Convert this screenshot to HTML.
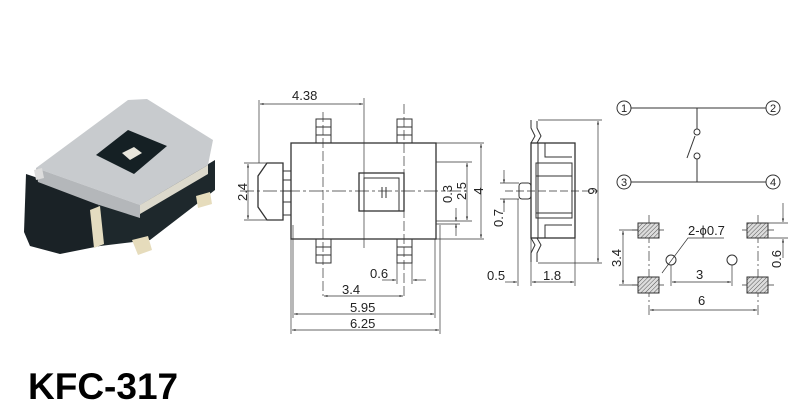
<!DOCTYPE html>
<html><head><meta charset="utf-8"><style>
body{margin:0;background:#fff;width:800px;height:415px;overflow:hidden}
svg{display:block}
text{font-family:"Liberation Sans",sans-serif;font-size:13px;fill:#222}
</style></head><body>
<svg width="800" height="415" viewBox="0 0 800 415" xmlns="http://www.w3.org/2000/svg">
<defs>
<pattern id="h" width="3" height="3" patternUnits="userSpaceOnUse" patternTransform="rotate(45)"><rect width="3" height="3" fill="#ddd"/><line x1="0" y1="0" x2="0" y2="3" stroke="#555" stroke-width="1"/></pattern>
<marker id="a" viewBox="0 0 10 10" refX="10" refY="5" markerWidth="7" markerHeight="5" orient="auto-start-reverse"><path d="M0,2 L10,5 L0,8z" fill="#333"/></marker>
</defs>
<!-- photo -->
<g>
<polygon points="26,174 98,198 100,246 60,254 30,246 24,232" fill="#1a2226"/>
<polygon points="140,205 215,160 215,190 150,240 100,246 98,200" fill="#1e282c"/>
<polygon points="128,100 147,99 213,140 208,165 140,205 36,168" fill="#c8cbce"/>
<polygon points="36,168 140,205 140,218 96,204 38,182" fill="#b4b7ba"/>
<polygon points="140,205 208,165 208,174 140,214" fill="#dcd9cc"/>
<polygon points="96,155 128,130 167,146 134,174" fill="#152024"/>
<polygon points="122,153 134,147 142,153 130,160" fill="#e8e6dc"/>
<polygon points="90,210 100,206 104,244 94,248" fill="#e4dcc0"/>
<polygon points="196,196 210,192 212,204 198,208" fill="#e6dcbc"/>
<polygon points="132,240 148,236 152,250 138,255" fill="#e6dcbc"/>
<polygon points="34,170 42,168 44,178 36,180" fill="#ddd"/>
</g>
<text x="28" y="399" style="font-size:37px;font-weight:bold;fill:#000">KFC-317</text>

<g fill="none" stroke="#333" stroke-width="1">
<!-- top view -->
<rect x="291" y="143" width="145" height="96" stroke-width="1.3"/>
<rect x="316" y="119" width="15" height="24"/><line x1="316" y1="127" x2="331" y2="127"/><line x1="316" y1="135" x2="331" y2="135"/>
<rect x="397" y="119" width="15" height="24"/><line x1="397" y1="127" x2="412" y2="127"/><line x1="397" y1="135" x2="412" y2="135"/>
<rect x="316" y="239" width="15" height="24"/><line x1="316" y1="247" x2="331" y2="247"/><line x1="316" y1="255" x2="331" y2="255"/>
<rect x="397" y="239" width="15" height="24"/><line x1="397" y1="247" x2="412" y2="247"/><line x1="397" y1="255" x2="412" y2="255"/>
<polygon points="283,163 267,163 258,176 258,207 267,220 283,220" stroke-width="1.3"/>
<rect x="283" y="171" width="8" height="44"/><line x1="283" y1="180" x2="291" y2="180"/><line x1="283" y1="191" x2="291" y2="191"/><line x1="283" y1="202" x2="291" y2="202"/>
<rect x="359" y="173" width="45" height="38" stroke-width="1.3"/>
<polyline points="364,211 364,178 399,178 399,211"/>
<line x1="382" y1="187" x2="382" y2="198"/><line x1="386" y1="187" x2="386" y2="198"/>
<line x1="240" y1="191" x2="470" y2="191" stroke-dasharray="14,3,3,3" stroke-width="0.7"/>
<line x1="364" y1="98" x2="364" y2="248" stroke-width="0.7"/>
<line x1="323" y1="112" x2="323" y2="296" stroke-dasharray="10,3" stroke-width="0.7"/>
<line x1="404" y1="104" x2="404" y2="296" stroke-dasharray="10,3" stroke-width="0.7"/>
<line x1="259" y1="100" x2="259" y2="163" stroke-width="0.7"/>
<line x1="260" y1="104" x2="363" y2="104" stroke-width="0.7" marker-start="url(#a)" marker-end="url(#a)"/>
<line x1="248" y1="164" x2="248" y2="219" stroke-width="0.7" marker-start="url(#a)" marker-end="url(#a)"/>
<line x1="244" y1="163" x2="267" y2="163" stroke-width="0.7"/><line x1="244" y1="220" x2="267" y2="220" stroke-width="0.7"/>
<line x1="436" y1="143" x2="484" y2="143" stroke-width="0.7"/><line x1="436" y1="239" x2="484" y2="239" stroke-width="0.7"/>
<line x1="436" y1="162" x2="472" y2="162" stroke-width="0.7"/><line x1="436" y1="221" x2="472" y2="221" stroke-width="0.7"/>
<line x1="436" y1="224" x2="460" y2="224" stroke-width="0.7"/>
<line x1="467" y1="163" x2="467" y2="220" stroke-width="0.7" marker-start="url(#a)" marker-end="url(#a)"/>
<line x1="481" y1="144" x2="481" y2="238" stroke-width="0.7" marker-start="url(#a)" marker-end="url(#a)"/>
<line x1="456" y1="208" x2="456" y2="221" stroke-width="0.7" marker-end="url(#a)"/><line x1="456" y1="236" x2="456" y2="224" stroke-width="0.7" marker-end="url(#a)"/>
<line x1="291" y1="239" x2="291" y2="334" stroke-width="0.7"/><line x1="293" y1="225" x2="293" y2="318" stroke-width="0.7"/>
<line x1="435" y1="239" x2="435" y2="318" stroke-width="0.7"/><line x1="440" y1="225" x2="440" y2="334" stroke-width="0.7"/>
<line x1="412" y1="263" x2="412" y2="284" stroke-width="0.7"/><line x1="397" y1="263" x2="397" y2="284" stroke-width="0.7"/>
<line x1="382" y1="280" x2="396" y2="280" stroke-width="0.7" marker-end="url(#a)"/><line x1="426" y1="280" x2="413" y2="280" stroke-width="0.7" marker-end="url(#a)"/>
<line x1="324" y1="296" x2="403" y2="296" stroke-width="0.7" marker-start="url(#a)" marker-end="url(#a)"/>
<line x1="294" y1="314" x2="434" y2="314" stroke-width="0.7" marker-start="url(#a)" marker-end="url(#a)"/>
<line x1="292" y1="330" x2="439" y2="330" stroke-width="0.7" marker-start="url(#a)" marker-end="url(#a)"/>
<!-- side view -->
<rect x="531" y="143" width="44" height="95" stroke-width="1.3"/>
<line x1="538" y1="143" x2="538" y2="238"/>
<rect x="536" y="163" width="36" height="55"/>
<line x1="536" y1="176" x2="572" y2="176"/><line x1="536" y1="213" x2="572" y2="213"/>
<polyline points="545,143 545,157 572,157"/><polyline points="545,238 545,225 572,225"/>
<path d="M531,143 L535,136 L531,128 L531,120 M537,143 L541,136 L537,128 L537,121" />
<path d="M531,238 L535,245 L531,253 L531,262 M537,238 L541,245 L537,253 L537,262"/>
<rect x="519" y="183" width="12" height="16" rx="3"/>
<line x1="505" y1="191" x2="598" y2="191" stroke-dasharray="8,3" stroke-width="0.7"/>
<line x1="538" y1="120" x2="602" y2="120" stroke-width="0.7"/><line x1="538" y1="263" x2="602" y2="263" stroke-width="0.7"/>
<line x1="598" y1="121" x2="598" y2="262" stroke-width="0.7" marker-start="url(#a)" marker-end="url(#a)"/>
<line x1="500" y1="183" x2="519" y2="183" stroke-width="0.7"/><line x1="500" y1="199" x2="519" y2="199" stroke-width="0.7"/>
<line x1="504" y1="170" x2="504" y2="183" stroke-width="0.7" marker-end="url(#a)"/><line x1="504" y1="212" x2="504" y2="199" stroke-width="0.7" marker-end="url(#a)"/>
<line x1="518" y1="199" x2="518" y2="286" stroke-width="0.7"/><line x1="531" y1="238" x2="531" y2="286" stroke-width="0.7"/><line x1="575" y1="238" x2="575" y2="286" stroke-width="0.7"/>
<line x1="505" y1="282" x2="517" y2="282" stroke-width="0.7" marker-end="url(#a)"/>
<line x1="532" y1="282" x2="574" y2="282" stroke-width="0.7" marker-start="url(#a)" marker-end="url(#a)"/>
<!-- schematic -->
<circle cx="624" cy="108" r="7"/><circle cx="773" cy="108" r="7"/><circle cx="624" cy="182" r="7"/><circle cx="773" cy="182" r="7"/>
<line x1="631" y1="108" x2="766" y2="108"/><line x1="631" y1="182" x2="766" y2="182"/>
<line x1="697" y1="108" x2="697" y2="129"/><circle cx="697" cy="132" r="3"/>
<circle cx="697" cy="156" r="3"/><line x1="697" y1="159" x2="697" y2="182"/>
<line x1="687" y1="158" x2="695" y2="136"/>
<!-- footprint -->
<line x1="649" y1="215" x2="649" y2="316" stroke-dasharray="10,3,2,3" stroke-width="0.7"/>
<line x1="758" y1="215" x2="758" y2="316" stroke-dasharray="10,3,2,3" stroke-width="0.7"/>
<line x1="632" y1="230" x2="664" y2="230" stroke-width="0.7"/><line x1="742" y1="230" x2="774" y2="230" stroke-width="0.7"/>
<line x1="632" y1="285" x2="664" y2="285" stroke-width="0.7"/><line x1="742" y1="285" x2="774" y2="285" stroke-width="0.7"/>
<line x1="619" y1="230" x2="640" y2="230" stroke-width="0.7"/><line x1="619" y1="285" x2="640" y2="285" stroke-width="0.7"/>
<line x1="623" y1="231" x2="623" y2="284" stroke-width="0.7" marker-start="url(#a)" marker-end="url(#a)"/>
<line x1="768" y1="223" x2="788" y2="223" stroke-width="0.7"/><line x1="768" y1="238" x2="788" y2="238" stroke-width="0.7"/>
<line x1="783" y1="203" x2="783" y2="222" stroke-width="0.7" marker-end="url(#a)"/><line x1="783" y1="258" x2="783" y2="239" stroke-width="0.7" marker-end="url(#a)"/>
<circle cx="671" cy="260" r="5"/><circle cx="732" cy="260" r="5"/>
<line x1="671" y1="265" x2="671" y2="286" stroke-width="0.7"/><line x1="732" y1="265" x2="732" y2="286" stroke-width="0.7"/>
<line x1="672" y1="282" x2="731" y2="282" stroke-width="0.7" marker-start="url(#a)" marker-end="url(#a)"/>
<line x1="650" y1="310" x2="757" y2="310" stroke-width="0.7" marker-start="url(#a)" marker-end="url(#a)"/>
<polyline points="662,273 688,238 724,238" stroke-width="0.7"/>
</g>
<g fill="url(#h)" stroke="#333" stroke-width="1">
<rect x="638" y="223" width="21" height="15"/><rect x="747" y="223" width="21" height="15"/>
<rect x="638" y="277" width="21" height="16"/><rect x="747" y="277" width="21" height="16"/>
</g>
<g>
<text x="292" y="100">4.38</text>
<text transform="translate(247,192) rotate(-90)" text-anchor="middle">2.4</text>
<text transform="translate(452,194) rotate(-90)" text-anchor="middle">0.3</text>
<text transform="translate(466,191) rotate(-90)" text-anchor="middle">2.5</text>
<text transform="translate(483,191) rotate(-90)" text-anchor="middle">4</text>
<text x="370" y="278">0.6</text>
<text x="342" y="294">3.4</text>
<text x="350" y="312">5.95</text>
<text x="350" y="328">6.25</text>
<text transform="translate(503,218) rotate(-90)" text-anchor="middle">0.7</text>
<text transform="translate(597,191) rotate(-90)" text-anchor="middle">9</text>
<text x="487" y="280">0.5</text>
<text x="543" y="280">1.8</text>
<text x="624" y="112" text-anchor="middle" style="font-size:11px">1</text>
<text x="773" y="112" text-anchor="middle" style="font-size:11px">2</text>
<text x="624" y="186" text-anchor="middle" style="font-size:11px">3</text>
<text x="773" y="186" text-anchor="middle" style="font-size:11px">4</text>
<text x="688" y="235">2-ϕ0.7</text>
<text transform="translate(621,258) rotate(-90)" text-anchor="middle">3.4</text>
<text x="696" y="279">3</text>
<text x="698" y="305">6</text>
<text transform="translate(781,259) rotate(-90)" text-anchor="middle">0.6</text>
</g>
</svg>
</body></html>
